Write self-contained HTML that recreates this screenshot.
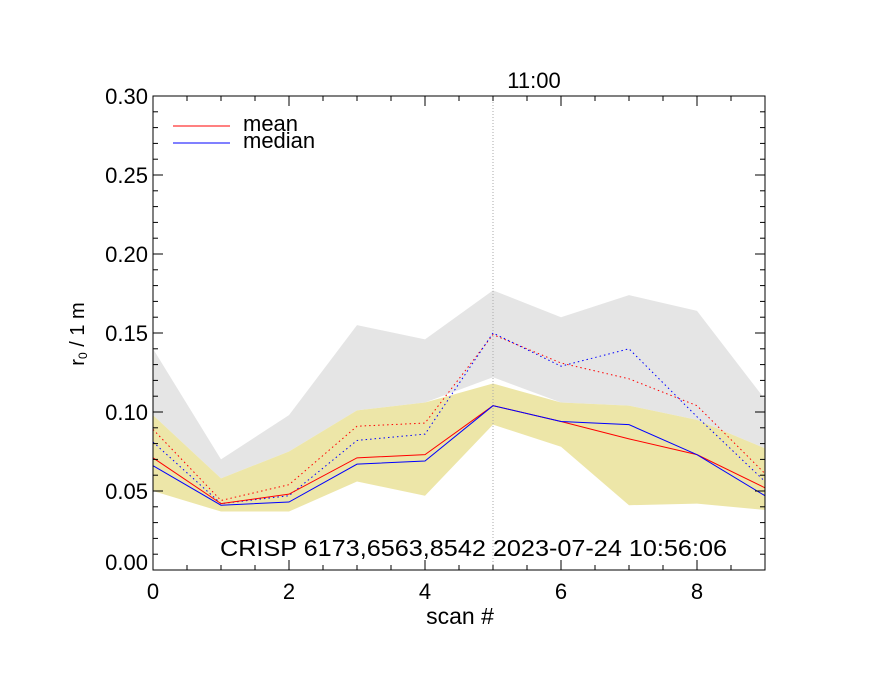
<!DOCTYPE html>
<html><head><meta charset="utf-8"><style>
body{margin:0;background:#fff}
svg text{font-family:"Liberation Sans",sans-serif;fill:#000}
</style></head><body>
<svg id="c" width="880" height="680" xmlns="http://www.w3.org/2000/svg"></svg>
<script>
const scans=[0,1,2,3,4,5,6,7,8,9];
const grayUpper=[0.140,0.070,0.098,0.155,0.146,0.177,0.160,0.174,0.164,0.108];
const grayLower=[0.098,0.058,0.075,0.101,0.106,0.122,0.106,0.104,0.095,0.077];
const yellowUpper=[0.098,0.058,0.075,0.101,0.106,0.118,0.106,0.104,0.095,0.077];
const yellowLower=[0.050,0.037,0.037,0.056,0.047,0.092,0.078,0.041,0.042,0.038];
const meanVals=[0.071,0.042,0.048,0.071,0.073,0.104,0.094,0.083,0.073,0.052];
const medianVals=[0.066,0.041,0.043,0.067,0.069,0.104,0.094,0.092,0.073,0.047];
const meanDotted=[0.089,0.044,0.054,0.091,0.093,0.149,0.131,0.121,0.104,0.061];
const medianDotted=[0.081,0.042,0.047,0.082,0.086,0.150,0.129,0.140,0.097,0.056];
const yTicks=[0,0.05,0.10,0.15,0.20,0.25,0.30];
const xTicks=[0,2,4,6,8];
const NS="http://www.w3.org/2000/svg",svg=document.getElementById('c');
const L=153,R=765,T=96,B=570;
const X=v=>L+(v-0)/9*(R-L);
const Y=v=>B-(v/0.30)*(B-T);
function el(t,a,p){const e=document.createElementNS(NS,t);for(const k in a)e.setAttribute(k,a[k]);(p||svg).appendChild(e);return e;}
function band(up,lo,fill,name){
  let pts=scans.map((s,i)=>X(s)+','+Y(up[i]));
  for(let i=scans.length-1;i>=0;i--)pts.push(X(scans[i])+','+Y(lo[i]));
  const e=el('polygon',{points:pts.join(' '),fill:fill});
  
  
}
band(grayUpper,grayLower,'#e5e5e5','gray-range-band');
band(yellowUpper,yellowLower,'#ede6a8','yellow-range-band');
const vl=el('line',{x1:X(5),x2:X(5),y1:T,y2:B,stroke:'#aaa','stroke-dasharray':'1,2'});


function line(vals,col,dash,name){
  const e=el('polyline',{points:scans.map((s,i)=>X(s)+','+Y(vals[i])).join(' '),fill:'none',stroke:col,'stroke-width':1});
  if(dash)e.setAttribute('stroke-dasharray','1.5,3');
  
  
}
line(meanDotted,'#f00',true,'mean-dotted-line');
line(medianDotted,'#00f',true,'median-dotted-line');
line(meanVals,'#f00',false,'mean-line');
line(medianVals,'#00f',false,'median-line');
const fr=el('rect',{x:L,y:T,width:R-L,height:B-T,fill:'none',stroke:'#000','stroke-width':1});


for(let v=0;v<=9.001;v+=0.5){const maj=Math.abs(v%2)<1e-6;const len=maj?10:5;
 el('line',{x1:X(v),x2:X(v),y1:B,y2:B-len,stroke:'#000'});el('line',{x1:X(v),x2:X(v),y1:T,y2:T+len,stroke:'#000'});}
for(let k=0;k<=30;k++){const v=k/100;const maj=k%5==0;const len=maj?10:5;
 el('line',{x1:L,x2:L+len,y1:Y(v),y2:Y(v),stroke:'#000'});el('line',{x1:R,x2:R-len,y1:Y(v),y2:Y(v),stroke:'#000'});}
xTicks.forEach(v=>{const t=el('text',{x:X(v),y:599,'font-size':22,'text-anchor':'middle'});t.textContent=v;
 
 });
yTicks.forEach(v=>{const t=el('text',{x:148,y:Y(v)+(v===0?0:8),'font-size':22,'text-anchor':'end'});t.textContent=v.toFixed(2);
 
 });
</script>
<div style="position:absolute;left:0;top:0;width:880px;height:680px;pointer-events:none">
<svg width="880" height="680" xmlns="http://www.w3.org/2000/svg">
<text x="460" y="624" font-size="23" text-anchor="middle">scan #</text>
<text transform="translate(84,334) rotate(-90)" font-size="20" text-anchor="middle">r<tspan font-size="12" dy="3">0</tspan><tspan dy="-3"> / 1 m</tspan></text>
<text x="534" y="88" font-size="22" text-anchor="middle">11:00</text>
<text x="220" y="556" font-size="23" textLength="507" lengthAdjust="spacingAndGlyphs">CRISP 6173,6563,8542 2023-07-24 10:56:06</text>
<g>
<line x1="173" x2="230" y1="126" y2="126" stroke="#f00"/>
<text x="243" y="131" font-size="22">mean</text>
<line x1="173" x2="230" y1="143" y2="143" stroke="#00f"/>
<text x="243" y="148" font-size="22">median</text>
</g>
</svg></div>
</body></html>
